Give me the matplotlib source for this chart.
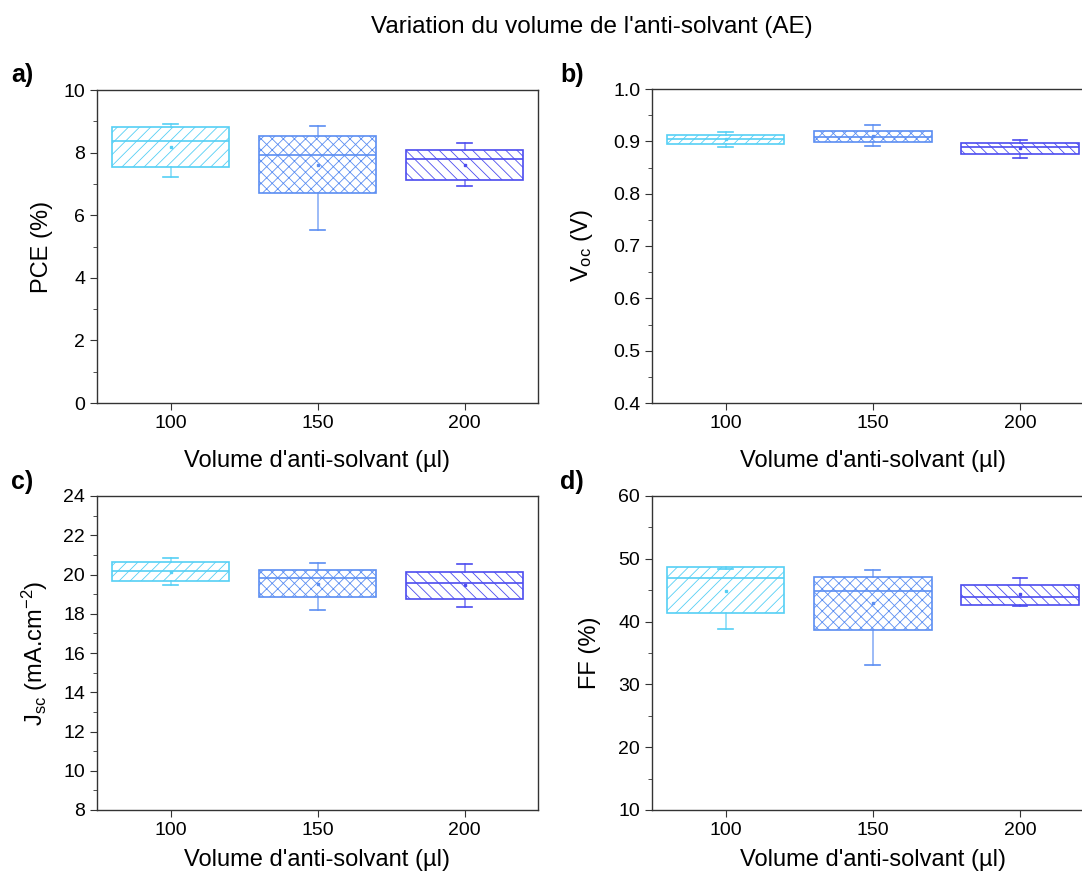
import matplotlib
matplotlib.use('Agg')
import matplotlib.pyplot as plt
from matplotlib.ticker import MultipleLocator

plt.rcParams['font.family'] = ['Liberation Sans', 'DejaVu Sans']
plt.rcParams['mathtext.fontset'] = 'custom'
plt.rcParams['mathtext.rm'] = 'Liberation Sans'
plt.rcParams['mathtext.it'] = 'Liberation Sans'
plt.rcParams['hatch.linewidth'] = 0.6

# volumes of anti-solvant
volumes = ['100', '150', '200']
colors = ['#55CFF5', '#5B8EF2', '#4C4CEF']
hatches = ['///', 'xxx', '\\\\\\']

# box stats: (whislo, q1, med, q3, whishi, mean)
pce = [(7.21, 7.53, 8.36, 8.83, 8.91, 8.19),
       (5.53, 6.70, 7.91, 8.54, 8.84, 7.61),
       (6.94, 7.12, 7.78, 8.09, 8.31, 7.61)]
voc = [(0.889, 0.895, 0.904, 0.912, 0.918, 0.905),
       (0.892, 0.899, 0.909, 0.919, 0.932, 0.910),
       (0.868, 0.876, 0.889, 0.897, 0.903, 0.887)]
jsc = [(19.44, 19.65, 20.16, 20.62, 20.85, 20.14),
       (18.18, 18.83, 19.80, 20.24, 20.57, 19.51),
       (18.35, 18.73, 19.55, 20.14, 20.52, 19.46)]
ff = [(38.77, 41.32, 46.89, 48.74, 48.30, 44.92),
      (33.14, 38.66, 44.87, 47.15, 48.17, 42.90),
      (42.44, 42.60, 43.97, 45.88, 46.89, 44.35)]

W, H = 1082, 873
fig = plt.figure(figsize=(W / 100, H / 100), dpi=100)

def add_ax(l, t, r, b):
    return fig.add_axes([l / W, 1 - b / H, (r - l) / W, (b - t) / H])

panels = [
    (add_ax(97, 90, 538, 403), pce, (0, 10), 2, 1, 'PCE (%)', -0.124, 13),
    (add_ax(652, 89, 1093.5, 403), voc, (0.4, 1.0), 0.1, 0.05, r'V$_{\mathregular{oc}}$ (V)', -0.158, 13),
    (add_ax(97, 496, 538, 810), jsc, (8, 24), 2, 1, r'J$_{\mathregular{sc}}$ (mA.cm$^{\mathregular{-2}}$)', -0.14, 7),
    (add_ax(652, 496, 1093.5, 810), ff, (10, 60), 10, 5, 'FF (%)', -0.14, 7),
]

for ax, data, ylim, major, minor, ylabel, lx, xpad in panels:
    for i, d in enumerate(data):
        st = dict(whislo=d[0], q1=d[1], med=d[2], q3=d[3], whishi=d[4], mean=d[5], fliers=[])
        c = colors[i]
        ax.bxp([st], positions=[i + 1], widths=0.8, capwidths=0.1, showmeans=True,
               patch_artist=True, showfliers=False,
               boxprops=dict(facecolor='white', edgecolor=c, linewidth=1.2, hatch=hatches[i]),
               medianprops=dict(color=c, linewidth=1.2),
               whiskerprops=dict(color=c, linewidth=1.2, alpha=0.7),
               capprops=dict(color=c, linewidth=1.2),
               meanprops=dict(marker='s', markersize=2, markerfacecolor=c, markeredgecolor=c))
    ax.set_xlim(0.5, 3.5)
    ax.set_ylim(*ylim)
    ax.set_xticks([1, 2, 3])
    ax.set_xticklabels(volumes)
    ax.yaxis.set_major_locator(MultipleLocator(major))
    ax.yaxis.set_minor_locator(MultipleLocator(minor))
    if ylim[1] < 2:
        ax.yaxis.set_major_formatter(matplotlib.ticker.FormatStrFormatter('%.1f'))
    ax.tick_params(which='both', direction='out', labelsize=14, color='#333333')
    ax.tick_params(which='major', length=5)
    ax.tick_params(which='minor', length=3)
    for s in ax.spines.values():
        s.set_color('#333333')
        s.set_linewidth(1.0)
    ax.set_xlabel("Volume d'anti-solvant (µl)", fontsize=17, labelpad=xpad)
    ax.set_ylabel(ylabel, fontsize=17, va='center')
    ax.yaxis.set_label_coords(lx, 0.5)

fig.text(22 / W, 1 - 75 / H, 'a)', fontsize=18, fontweight='bold', ha='center', va='center')
fig.text(572 / W, 1 - 75 / H, 'b)', fontsize=18, fontweight='bold', ha='center', va='center')
fig.text(22 / W, 1 - 482 / H, 'c)', fontsize=18, fontweight='bold', ha='center', va='center')
fig.text(572 / W, 1 - 482 / H, 'd)', fontsize=18, fontweight='bold', ha='center', va='center')
fig.text(592 / W, 1 - 27 / H, "Variation du volume de l'anti-solvant (AE)", fontsize=17.5,
         ha='center', va='center')

fig.savefig('out.png', dpi=100)
